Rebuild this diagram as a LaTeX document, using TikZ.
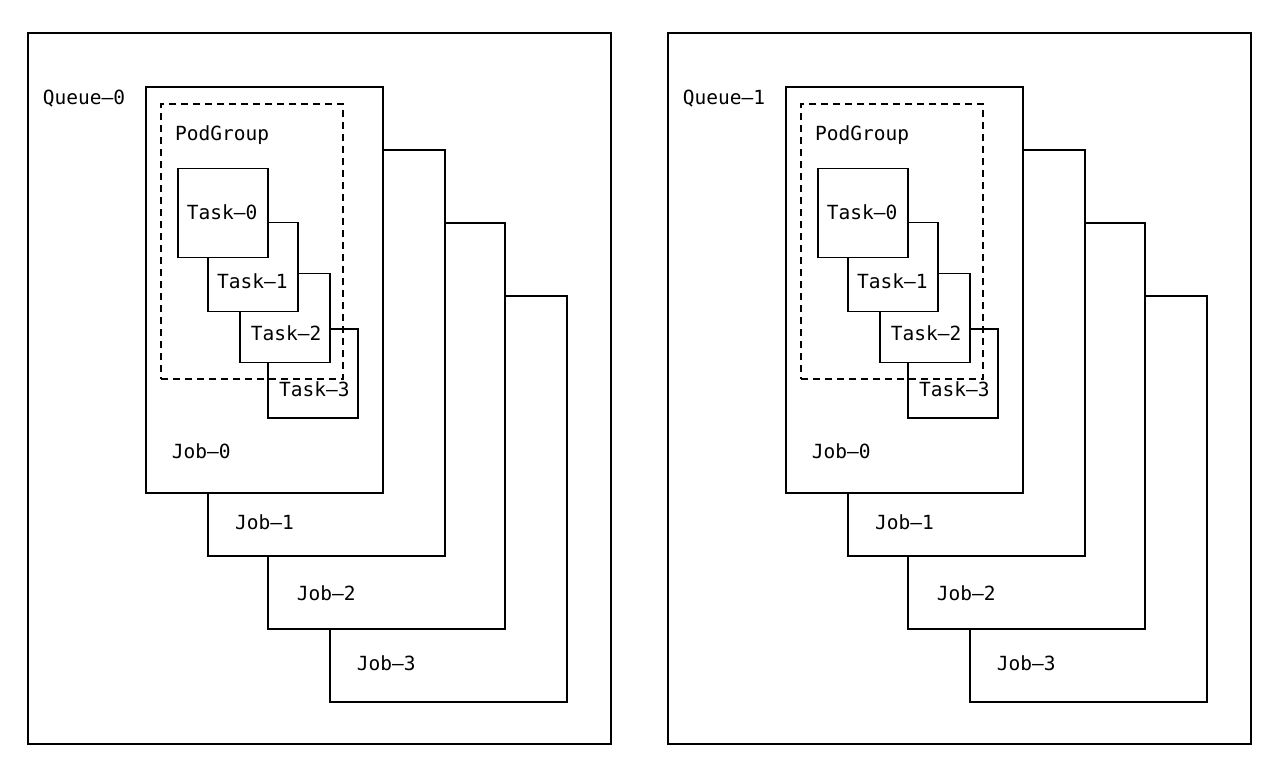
\documentclass[tikz,border=0pt]{standalone}
\usepackage{fontspec}
\setmonofont{DejaVu Sans Mono}
\tikzset{
  box/.style={draw, line width=1.4pt, fill=white, inner sep=0pt, rectangle},
  podbox/.style={draw, line width=1.4pt, dash pattern=on 7pt off 5pt, inner sep=0pt, rectangle},
  lbl/.style={anchor=base west, inner sep=0pt, font=\ttfamily\fontsize{19.5}{22}\selectfont},
}
\newcommand\drawpanel[3]{%
  \begin{scope}[xshift=#1pt]
    \node[box, minimum width=583pt, minimum height=711pt] (#2queue) at (319.5,388.5) {};
    \node[lbl] (#2queuelbl) at (42.7,104) {#3};
    \node[box, minimum width=237pt, minimum height=406pt] (#2job3) at (448.5,499) {};
    \node[box, minimum width=237pt, minimum height=406pt] (#2job2) at (386.5,426) {};
    \node[box, minimum width=237pt, minimum height=406pt] (#2job1) at (326.5,353) {};
    \node[box, minimum width=237pt, minimum height=406pt] (#2job0) at (264.5,290) {};
    \node[lbl] (#2job0lbl) at (171.7,458.3) {Job–0};
    \node[lbl] (#2job1lbl) at (235,529.3) {Job–1};
    \node[lbl] (#2job2lbl) at (296.7,600) {Job–2};
    \node[lbl] (#2job3lbl) at (356.7,670.7) {Job–3};
    \node[lbl] (#2podlbl) at (175,140) {PodGroup};
    \node[box, minimum width=90pt, minimum height=89pt] (#2task3) at (313,373.5) {};
    \node[box, minimum width=90pt, minimum height=89pt] (#2task2) at (285,318) {};
    \node[box, minimum width=90pt, minimum height=89pt] (#2task1) at (253,267) {};
    \node[box, minimum width=90pt, minimum height=89pt] (#2task0) at (223,213) {};
    \node[lbl] (#2task0lbl) at (186.7,219.3) {Task–0};
    \node[lbl] (#2task1lbl) at (217,288.3) {Task–1};
    \node[lbl] (#2task2lbl) at (250.7,340) {Task–2};
    \node[lbl] (#2task3lbl) at (279,396) {Task–3};
    \node[podbox, minimum width=182pt, minimum height=275pt] (#2pod) at (252,241.5) {};
  \end{scope}%
}
\begin{document}
\begin{tikzpicture}[x=1pt,y=-1pt]
  \useasboundingbox[fill=white] (0,0) rectangle (1284,776);
  \drawpanel{0}{L}{Queue–0}
  \drawpanel{640}{R}{Queue–1}
\end{tikzpicture}
\end{document}
